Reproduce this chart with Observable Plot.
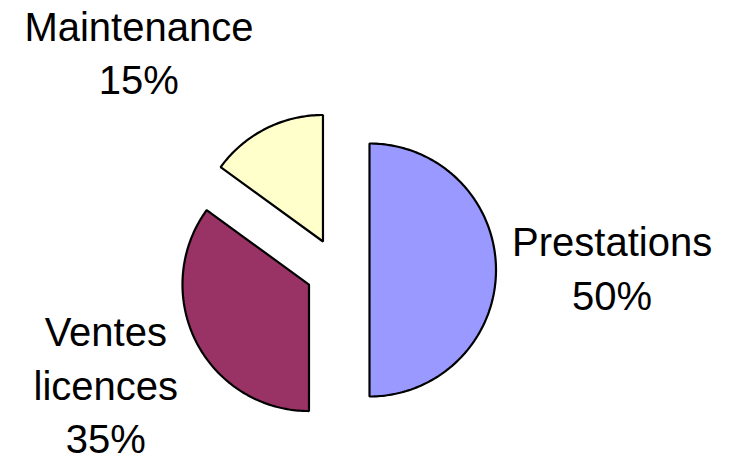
<!DOCTYPE html>
<html>
<head>
<meta charset="utf-8">
<script src="https://cdn.jsdelivr.net/npm/d3@7"></script>
<script src="https://cdn.jsdelivr.net/npm/@observablehq/plot@0.6"></script>
<style>
  html, body { margin: 0; padding: 0; background: #fff; }
  #chart { width: 734px; height: 460px; }
</style>
</head>
<body>
<div id="chart"></div>
<script>
// ---- data ----
const categories = ["Prestations", "Ventes licences", "Maintenance"];
const values = [50, 35, 15];
const labels = ["Prestations\n50%", "Ventes\nlicences\n35%", "Maintenance\n15%"];
const colors = ["#9999FF", "#993366", "#FFFFCC"];

// ---- geometry (in radius units) ----
const W = 734, H = 460;
const R = 126.5;            // pixel radius
const cx = 337, cy = 269.5; // pie center in pixels
const explode = 32 / R;     // explosion offset
const labelRadius = 2.1;

const pie = d3.pie().sort(null).value(d => d.value)(
  categories.map((c, i) => ({category: c, value: values[i], label: labels[i], color: colors[i]}))
);

const pts = [];
const labelRows = [];
pie.forEach(s => {
  const mid = (s.startAngle + s.endAngle) / 2;
  const ox = explode * Math.sin(mid), oy = explode * Math.cos(mid);
  pts.push({slice: s.data.category, color: s.data.color, x: ox, y: oy});
  const n = Math.max(4, Math.ceil((s.endAngle - s.startAngle) / (Math.PI * 2) * 360));
  for (let k = 0; k <= n; k++) {
    const a = s.startAngle + (s.endAngle - s.startAngle) * k / n;
    pts.push({slice: s.data.category, color: s.data.color, x: ox + Math.sin(a), y: oy + Math.cos(a)});
  }
  labelRows.push({slice: s.data.category, label: s.data.label,
    x: labelRadius * Math.sin(mid), y: labelRadius * Math.cos(mid)});
});

const textOpts = {
  x: "x", y: "y", text: "label",
  fontSize: 40, lineHeight: 1.33, fill: "#000",
  fontFamily: "Liberation Sans, Arial, sans-serif"
};

const chart = Plot.plot({
  width: W, height: H,
  margin: 0,
  x: {axis: null, domain: [-cx / R, (W - cx) / R]},
  y: {axis: null, domain: [-(H - cy) / R, cy / R]},
  marks: [
    Plot.line(pts, {x: "x", y: "y", z: "slice", fill: "color", stroke: "#000",
      strokeWidth: 2.2, strokeLinejoin: "miter", curve: "linear-closed"}),
    Plot.text(labelRows.filter(d => d.slice === "Prestations"), {...textOpts, dx: 9, dy: -4}),
    Plot.text(labelRows.filter(d => d.slice === "Ventes licences"), {...textOpts, dx: 5, dy: -8}),
    Plot.text(labelRows.filter(d => d.slice === "Maintenance"), {...textOpts, dx: -78, dy: 17})
  ]
});
document.getElementById("chart").appendChild(chart);
</script>
</body>
</html>
